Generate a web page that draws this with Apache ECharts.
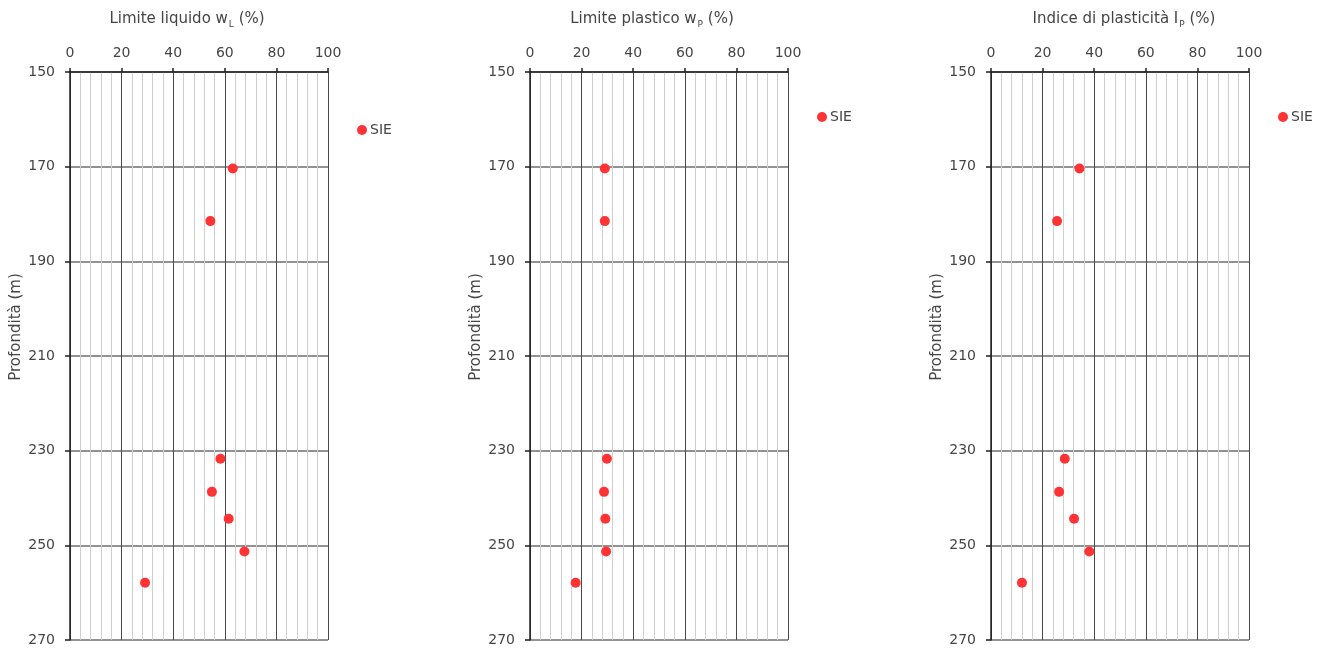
<!DOCTYPE html>
<html>
<head>
<meta charset="utf-8">
<script src="https://cdn.jsdelivr.net/npm/echarts@6/dist/echarts.min.js"></script>
<style>
  html, body { margin: 0; padding: 0; background: #ffffff; }
  #chart { width: 1322px; height: 648px; }
</style>
</head>
<body>
<div id="chart"></div>
<script>
// Depth scale (m) and percentage scale tick labels
const depthTicks = [150, 170, 190, 210, 230, 250, 270];
const percentTicks = [0, 20, 40, 60, 80, 100];

// Sample depths (m) and Atterberg limits (%)
const depths = [170.4, 181.5, 231.7, 238.7, 244.4, 251.3, 257.9];
const liquidLimit = [63.1, 54.4, 58.3, 55.0, 61.5, 67.6, 29.1];
const plasticLimit = [29.0, 29.0, 29.8, 28.7, 29.2, 29.5, 17.7];
const plasticityIndex = [34.3, 25.6, 28.6, 26.4, 32.2, 38.1, 12.0];

const seriesName = 'SIE';
const panelTitles = [
  ['Limite liquido w', 'L', ' (%)'],
  ['Limite plastico w', 'P', ' (%)'],
  ['Indice di plasticità I', 'P', ' (%)']
];
const panelValues = [liquidLimit, plasticLimit, plasticityIndex];

// Panel geometry
const gridLefts = [70, 530, 991];
const gridTop = 72;
const gridWidth = 258;
const gridHeight = 568;
const legendPos = [[357, 123], [817, 110], [1278, 110]];
// horizontal nudge of each panel title (left/right padding)
const titlePad = [[0, 24], [0, 14], [8, 0]];

const FONT = 'DejaVu Sans';
const TEXT = '#454545';
const AXIS = '#1f1f1f';

// Depth axis runs from the first tick; values are measured from that top depth
const depthTop = depthTicks[0];
const depthStep = depthTicks[1] - depthTicks[0];
const depthSpan = depthTicks[depthTicks.length - 1] - depthTop;
const pctStep = percentTicks[1] - percentTicks[0];

const grids = [], xAxes = [], yAxes = [], series = [], legends = [];

panelTitles.forEach((t, i) => {
  grids.push({ left: gridLefts[i], top: gridTop, width: gridWidth, height: gridHeight, containLabel: false });

  xAxes.push({
    type: 'value',
    gridIndex: i,
    position: 'top',
    min: percentTicks[0],
    max: percentTicks[percentTicks.length - 1],
    interval: pctStep,
    name: '{t|' + t[0] + '}{s|' + t[1] + '}{t|' + t[2] + '}',
    nameLocation: 'middle',
    nameGap: 43,
    nameTextStyle: {
      padding: [0, titlePad[i][1], 0, titlePad[i][0]],
      rich: {
        t: { fontFamily: FONT, fontSize: 15, color: TEXT, lineHeight: 19 },
        s: { fontFamily: FONT, fontSize: 9, color: TEXT, verticalAlign: 'bottom', lineHeight: 19, padding: [6, 0, 0, 1] }
      }
    },
    axisLine: { show: true, lineStyle: { color: AXIS, width: 1.5 } },
    axisTick: { show: true, inside: false, length: 4, lineStyle: { color: AXIS, width: 1.5 } },
    axisLabel: { margin: 12, fontFamily: FONT, fontSize: 14, color: TEXT },
    splitLine: { show: true, lineStyle: { color: '#4a4a4a', width: 1 } },
    minorTick: { show: false, splitNumber: 5 },
    minorSplitLine: { show: true, lineStyle: { color: '#cfcfcf', width: 1 } }
  });

  yAxes.push({
    type: 'value',
    gridIndex: i,
    inverse: true,
    min: 0,
    max: depthSpan,
    interval: depthStep,
    name: 'Profondità (m)',
    nameLocation: 'middle',
    nameGap: 46,
    nameTextStyle: { fontFamily: FONT, fontSize: 15, color: TEXT, padding: [0, 0, 0, 58] },
    axisLine: { show: true, lineStyle: { color: AXIS, width: 1.5 } },
    axisTick: { show: true, inside: false, length: 5, lineStyle: { color: AXIS, width: 1.5 } },
    axisLabel: {
      margin: 15, fontFamily: FONT, fontSize: 14, color: TEXT,
      formatter: v => String(v + depthTop)
    },
    splitLine: { show: true, lineStyle: { color: '#6e6e6e', width: 1.5 } }
  });

  series.push({
    name: seriesName,
    type: 'scatter',
    xAxisIndex: i,
    yAxisIndex: i,
    symbol: 'circle',
    symbolSize: 10,
    itemStyle: { color: '#ff3333', opacity: 1 },
    data: panelValues[i].map((v, k) => [v, depths[k] - depthTop])
  });

  legends.push({
    data: [seriesName],
    left: legendPos[i][0],
    top: legendPos[i][1],
    orient: 'vertical',
    padding: 0,
    icon: 'circle',
    itemWidth: 10,
    itemHeight: 10,
    itemGap: 0,
    textStyle: { fontFamily: FONT, fontSize: 14, color: TEXT, padding: [0, 0, 0, -2] }
  });
});

const chart = echarts.init(document.getElementById('chart'), null, { renderer: 'canvas' });
chart.setOption({
  animation: false,
  backgroundColor: '#ffffff',
  grid: grids,
  xAxis: xAxes,
  yAxis: yAxes,
  legend: legends,
  series: series
});
</script>
</body>
</html>
